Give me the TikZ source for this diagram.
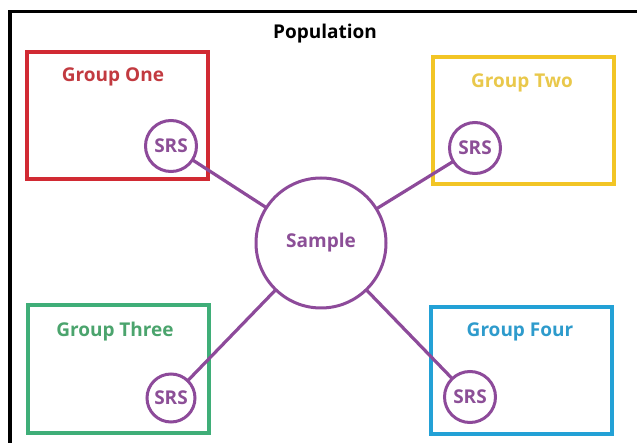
\documentclass[tikz,border=0pt]{standalone}
\usepackage{fontspec}
\setmainfont{Open Sans}
\definecolor{cred}{HTML}{D12A33}
\definecolor{cyellow}{HTML}{F2C525}
\definecolor{cgreen}{HTML}{3FAE78}
\definecolor{cblue}{HTML}{23A1D6}
\definecolor{cpurple}{HTML}{8D4A9A}
\definecolor{tred}{HTML}{C23A40}
\definecolor{tyellow}{HTML}{E9C84B}
\definecolor{tgreen}{HTML}{4BA46D}
\definecolor{tblue}{HTML}{2E9BCC}
\definecolor{tpurple}{HTML}{8C4F97}
\begin{document}
\begin{tikzpicture}[x=1pt,y=-1pt,
  every node/.style={inner sep=0pt,outer sep=0pt},
  lbl/.style={font=\fontsize{19}{21}\selectfont\bfseries},
  groupbox/.style={draw=#1,line width=3.6pt,minimum width=181pt,minimum height=127pt},
  srs/.style={circle,draw=cpurple,fill=white,line width=3pt,minimum size=51pt,lbl,text=tpurple},
  samp/.style={circle,draw=cpurple,fill=white,line width=3pt,minimum size=130pt,lbl,text=tpurple},
  link/.style={draw=cpurple,line width=3.2pt}]
\useasboundingbox (0,0) rectangle (637,443);
% outer frame (only top and left sides visible)
\coordinate (frTR) at (640,11.5);
\coordinate (frTL) at (10,11.5);
\coordinate (frBL) at (10,446);
\draw[line width=3.2pt] (frTR) -- (frTL) -- (frBL);
\node[lbl] (pop) at (325,33.5) {Population};
% group boxes
\node[groupbox=cred] (g1) at (117.5,115.5) {};
\node[groupbox=cyellow] (g2) at (523.5,120.5) {};
\node[groupbox=cgreen,minimum height=128pt] (g3) at (118.5,369) {};
\node[groupbox=cblue] (g4) at (521.5,370.5) {};
\node[lbl,text=tred] (l1) at (113,77) {Group One};
\node[lbl,text=tyellow] (l2) at (522,83) {Group Two};
\node[lbl,text=tgreen] (l3) at (115,332) {Group Three};
\node[lbl,text=tblue] (l4) at (520,332) {Group Four};
% circles
\node[samp] (s) at (321,243) {Sample};
\node[srs] (s1) at (171,146) {SRS};
\node[srs] (s2) at (475,148) {SRS};
\node[srs,minimum size=48pt] (s3) at (171,398) {SRS};
\node[srs] (s4) at (470,397) {SRS};
% links
\draw[link] (s1) -- (s);
\draw[link] (s2) -- (s);
\draw[link] (s3) -- (s);
\draw[link] (s4) -- (s);
\end{tikzpicture}
\end{document}
